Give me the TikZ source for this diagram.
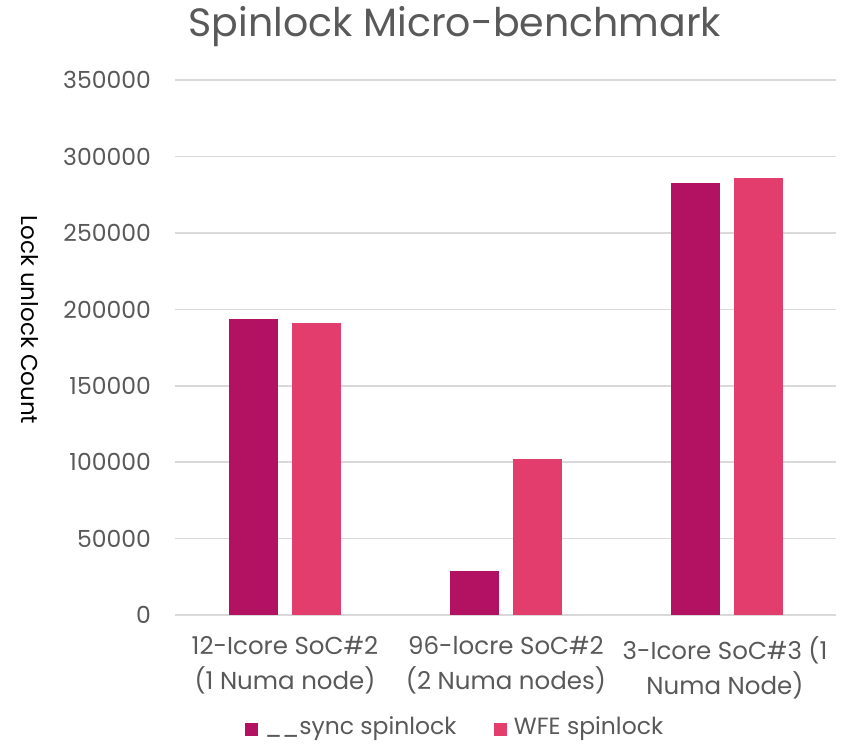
\documentclass[tikz,border=0pt]{standalone}
\usepackage{fontspec}
\setmainfont{Poppins}
\usepackage{tikz}
\usetikzlibrary{positioning}
\definecolor{syncbar}{HTML}{B31262}
\definecolor{wfebar}{HTML}{E33D6E}
\definecolor{labelgray}{HTML}{595959}
\definecolor{gridgray}{HTML}{D9D9D9}
\tikzstyle{every node}+=[inner sep=0pt]
\tikzstyle{grid} = [draw=gridgray, line width=1.5pt]
\tikzstyle{tick} = [text=labelgray, font=\fontsize{23.5}{26}\selectfont, anchor=east]
\tikzstyle{category} = [text=labelgray, font=\fontsize{24.5}{35}\selectfont, align=center, anchor=north]
\tikzstyle{bar} = [draw=none]
\tikzstyle{key} = [minimum size=13pt, draw=none]
\tikzstyle{keytext} = [text=labelgray, font=\fontsize{23.5}{26}\selectfont, anchor=west]

\begin{document}
\begin{tikzpicture}[x=1pt, y=-1pt]
  \useasboundingbox (0,0) rectangle (844,747);
  % Title and axis title
  \node [text=labelgray, font=\fontsize{39.5}{44}\selectfont] (title) at (455,27) {Spinlock Micro-benchmark};
  \node [rotate=-90, font=\fontsize{23}{26}\selectfont] (ytitle) at (30,320) {Lock unlock Count};
  % Gridlines and tick labels (values in thousands)
  \foreach \v/\t in {0/0, 50/50000, 100/100000, 150/150000, 200/200000, 250/250000, 300/300000, 350/350000} {
    \draw [grid] (175,{615-\v*1.528}) -- (836,{615-\v*1.528});
    \node [tick] (t\v) at (151,{615-\v*1.528}) {\t};
  }
  % Bars: left edge / value in thousands
  \foreach \x/\v in {229/193.7, 450/28.8, 671/282.7}
    \fill [bar, syncbar] (\x,615) rectangle ({\x+49},{615-\v*1.528});
  \foreach \x/\v in {292/191.1, 513/102.1, 734/286.0}
    \fill [bar, wfebar] (\x,615) rectangle ({\x+49},{615-\v*1.528});
  % Category labels
  \node [category] (c1) at (285,636) {12-Icore SoC\#2\\(1 Numa node)};
  \node [category] (c2) at (506,636) {96-locre SoC\#2\\(2 Numa nodes)};
  \node [category] (c3) at (725,636) {3-Icore SoC\#3 (1\\Numa Node)};
  % Legend
  \node [key, fill=syncbar] (k1) at (251,729) {};
  \node [keytext, right=7pt of k1] (l1) {\_\_sync spinlock};
  \node [key, fill=wfebar] (k2) at (500,729) {};
  \node [keytext, right=7pt of k2] (l2) {WFE spinlock};
\end{tikzpicture}
\end{document}
